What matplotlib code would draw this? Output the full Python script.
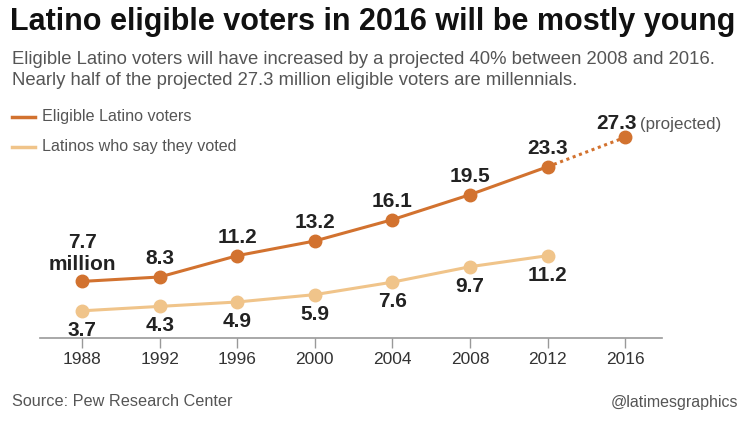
import matplotlib
matplotlib.use("Agg")
import matplotlib.pyplot as plt

plt.rcParams['font.family'] = ['Liberation Sans', 'DejaVu Sans']

# data
years = [1988, 1992, 1996, 2000, 2004, 2008, 2012, 2016]
eligible = [7.7, 8.3, 11.2, 13.2, 16.1, 19.5, 23.3, 27.3]
voted_years = [1988, 1992, 1996, 2000, 2004, 2008, 2012]
voted = [3.7, 4.3, 4.9, 5.9, 7.6, 9.7, 11.2]

title = "Latino eligible voters in 2016 will be mostly young"
subtitle = ("Eligible Latino voters will have increased by a projected 40% between 2008 and 2016.\n"
            "Nearly half of the projected 27.3 million eligible voters are millennials.")

dark = '#D2722F'
light = '#F0C48A'
gray = '#555555'
txt = '#222222'

fig = plt.figure(figsize=(7.5, 4.22), dpi=100)
ax = fig.add_axes([40/750, 84/422, 622/750, 220.5/422])

#solid part, then dotted projection
ax.plot(years[:-1], eligible[:-1], color=dark, lw=2.2, zorder=3)
ax.plot(years[-2:], eligible[-2:], color=dark, lw=2.2, ls=(0, (1, 1.2)), zorder=3)
ax.plot(years, eligible, 'o', color=dark, ms=9, zorder=4)
ax.plot(voted_years, voted, color=light, lw=2.2, zorder=3)
ax.plot(voted_years, voted, 'o', color=light, ms=9, zorder=4)

#value labels
for i, (yr, v) in enumerate(zip(years, eligible)):
    if i == 0:
        ax.annotate(f"{v}\nmillion", (yr, v), xytext=(0, 20), textcoords='offset points',
                    ha='center', va='center', fontsize=15, fontweight='bold', color=txt,
                    linespacing=1.2)
    elif i == len(years) - 1:
        ax.annotate(f"{v}", (yr, v), xytext=(8, 10), textcoords='offset points',
                    ha='right', va='center', fontsize=15, fontweight='bold', color=txt)
        ax.annotate("(projected)", (yr, v), xytext=(11, 9), textcoords='offset points',
                    ha='left', va='center', fontsize=12.2, color=gray)
    else:
        ax.annotate(f"{v}", (yr, v), xytext=(0, 13), textcoords='offset points',
                    ha='center', va='center', fontsize=15, fontweight='bold', color=txt)
for yr, v in zip(voted_years, voted):
    ax.annotate(f"{v}", (yr, v), xytext=(0, -14), textcoords='offset points',
                ha='center', va='center', fontsize=15, fontweight='bold', color=txt)

ax.set_xlim(1985.83, 2017.9)
ax.set_ylim(0, 30)
ax.set_xticks(years)
ax.set_xticklabels([str(y) for y in years])
ax.set_yticks([])
for s in ['top', 'right', 'left']:
    ax.spines[s].set_visible(False)
ax.spines['bottom'].set_color('#999999')
ax.spines['bottom'].set_linewidth(1.2)
ax.tick_params(axis='x', length=7, width=1, color='#999999', labelsize=12.5,
               labelcolor='#333333', pad=3)
ax.patch.set_alpha(0)

#legend drawn by hand
fig.add_artist(plt.Line2D([12/750, 35/750], [1-117/422]*2, color=dark, lw=2.5))
fig.text(42/750, 1-117/422, "Eligible Latino voters", fontsize=11.6, color=gray, va='center')
fig.add_artist(plt.Line2D([12/750, 35/750], [1-147/422]*2, color=light, lw=2.5))
fig.text(42/750, 1-147/422, "Latinos who say they voted", fontsize=11.6, color=gray, va='center')

fig.text(10/750, 1-22/422, title, fontsize=22, fontweight='bold', color='#111111', va='center')
fig.text(12/750, 1-70/422, subtitle, fontsize=13.3, color=gray, va='center', linespacing=1.32)
fig.text(12/750, 1-402/422, "Source: Pew Research Center", fontsize=11.7, color=gray, va='center')
fig.text(738/750, 1-402/422, "@latimesgraphics", fontsize=11.5, color=gray, va='center', ha='right')

fig.savefig('out.png', dpi=100, facecolor='white')
